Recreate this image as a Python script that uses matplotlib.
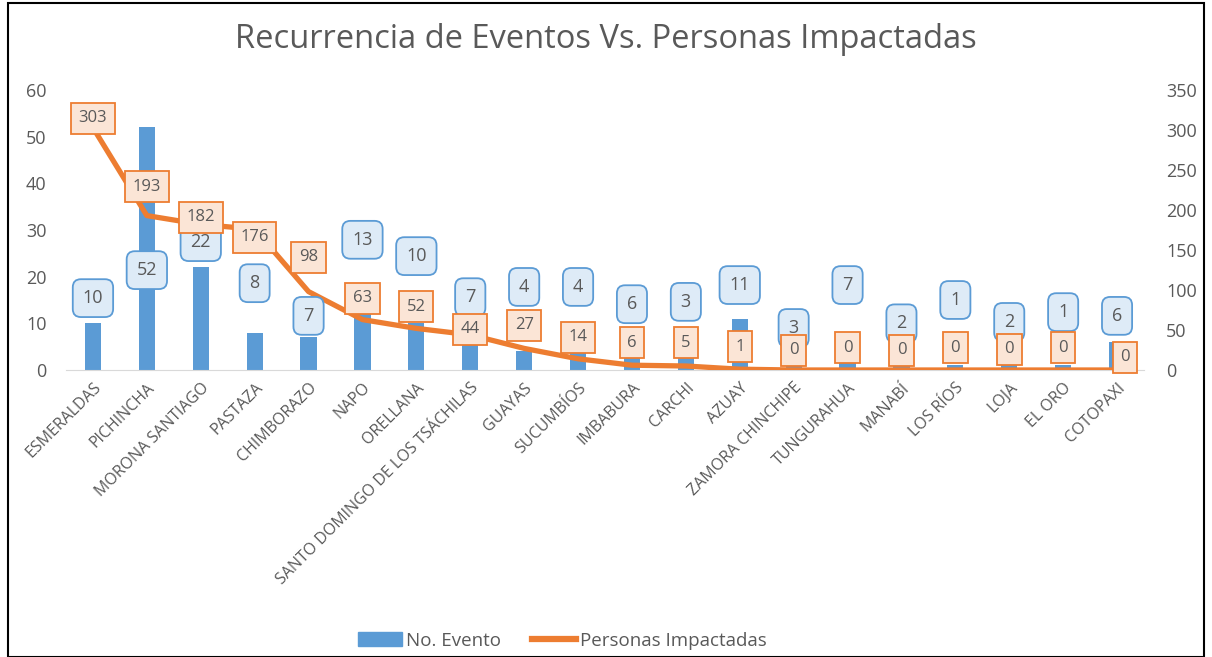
import matplotlib
matplotlib.use('Agg')
import matplotlib.pyplot as plt
from matplotlib.patches import Rectangle
from matplotlib.lines import Line2D
from matplotlib.patches import Patch

provincias = ['ESMERALDAS', 'PICHINCHA', 'MORONA SANTIAGO', 'PASTAZA', 'CHIMBORAZO', 'NAPO',
              'ORELLANA', 'SANTO DOMINGO DE LOS TSÁCHILAS', 'GUAYAS', 'SUCUMBÍOS', 'IMBABURA',
              'CARCHI', 'AZUAY', 'ZAMORA CHINCHIPE', 'TUNGURAHUA', 'MANABÍ', 'LOS RÍOS', 'LOJA',
              'EL ORO', 'COTOPAXI']
no_evento = [10, 52, 22, 8, 7, 13, 10, 7, 4, 4, 6, 3, 11, 3, 7, 2, 1, 2, 1, 6]
personas = [303, 193, 182, 176, 98, 63, 52, 44, 27, 14, 6, 5, 1, 0, 0, 0, 0, 0, 0, 0]

# where excel left the data labels (axis units)
evento_label_y = [15.4, 21.4, 27.4, 18.6, 11.6, 27.9, 24.4, 15.6, 17.8, 17.8,
                  14.1, 14.6, 18.2, 9.0, 18.2, 10.0, 15.0, 10.3, 12.4, 11.6]
personas_label_y = [315, 229, 191, 166, 141, 90, 79, 51, 56, 41,
                    34, 34, 29, 25, 28, 25, 28, 26, 28, 16]

BLUE = '#5B9BD5'
ORANGE = '#ED7D31'
GRAY = '#595959'
plt.rcParams['font.family'] = ['Open Sans', 'DejaVu Sans']

fig = plt.figure(figsize=(12.12, 6.57), dpi=100)
ax = fig.add_axes([66 / 1212, 1 - 370 / 657, (1144 - 66) / 1212, 280 / 657])
ax2 = ax.twinx()

x = list(range(len(provincias)))
ax.bar(x, no_evento, width=0.3, color=BLUE, zorder=2)
ax2.plot(x, personas, color=ORANGE, lw=3.8, solid_capstyle='round', zorder=3)

ax.set_ylim(0, 60)
ax2.set_ylim(0, 350)
ax.set_xlim(-0.5, len(provincias) - 0.5)
ax.set_yticks(range(0, 61, 10))
ax2.set_yticks(range(0, 351, 50))

for a in (ax, ax2):
    for s in a.spines.values():
        s.set_visible(False)
    a.tick_params(length=0, labelsize=13, labelcolor=GRAY)
ax.spines['bottom'].set_visible(True)
ax.spines['bottom'].set_color('#D9D9D9')
ax.tick_params(axis='y', pad=14)
ax2.tick_params(axis='y', pad=16)

ax.set_xticks(x)
ax.set_xticklabels(provincias, rotation=45, ha='right', rotation_mode='anchor', fontsize=11.5)
ax.tick_params(axis='x', pad=7)

# all labels live on the top axes so they sit over bars and line
for i, v in enumerate(no_evento):
    ax2.text(i, evento_label_y[i], str(v), transform=ax.transData, ha='center', va='center',
             fontsize=13, color=GRAY, zorder=5,
             bbox=dict(boxstyle='round,pad=0.55,rounding_size=0.45', fc='#DEEBF7', ec=BLUE, lw=1.3))
for i, v in enumerate(personas):
    xi = i + 0.15 if i == len(personas) - 1 else i
    ax2.text(xi, personas_label_y[i], str(v), ha='center', va='center', fontsize=12, color=GRAY, zorder=6,
             bbox=dict(boxstyle='square,pad=0.45', fc='#FBE5D6', ec=ORANGE, lw=1.3))

fig.suptitle('Recurrencia de Eventos Vs. Personas Impactadas', y=0.965, fontsize=23.5, color=GRAY)

handles = [Patch(color=BLUE), Line2D([0], [0], color=ORANGE, lw=4.5)]
fig.legend(handles, ['No. Evento', 'Personas Impactadas'], loc='center', bbox_to_anchor=(0.464, 0.025),
           ncol=2, frameon=False, fontsize=13.5, labelcolor=GRAY, handlelength=2.35,
           handletextpad=0.2, columnspacing=1.65)

fig.patches.append(Rectangle((8 / 1212, 0), 1 - 16 / 1212, 1 - 3 / 657, transform=fig.transFigure,
                             fill=False, ec='black', lw=1.5))

fig.savefig('out.png', dpi=100)
